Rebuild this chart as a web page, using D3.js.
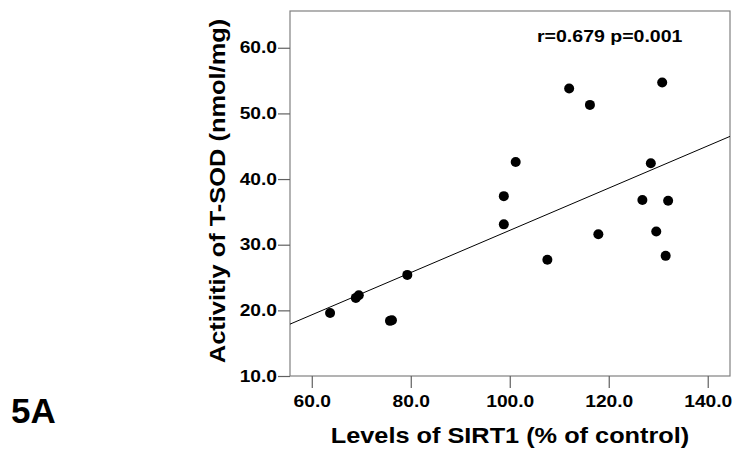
<!DOCTYPE html>
<html>
<head>
<meta charset="utf-8">
<title>SIRT1 vs T-SOD</title>
<script src="https://d3js.org/d3.v7.min.js"></script>
<style>
  body { margin: 0; background: #fff; }
  text { font-family: "Liberation Sans", Arial, sans-serif; font-weight: bold; fill: #000; }
</style>
</head>
<body>
<div id="chart"></div>
<script>
// data
var sirt1 = [63.7, 68.9, 69.5, 75.8, 76.2, 79.3, 98.8, 98.8, 101.2, 107.6, 112.0, 116.2, 117.9, 126.8, 128.5, 129.6, 130.8, 131.5, 132.0];
var tsod  = [19.6, 21.9, 22.3, 18.4, 18.5, 25.4, 33.1, 37.4, 42.6, 27.7, 53.8, 51.3, 31.6, 36.8, 42.4, 32.0, 54.7, 28.3, 36.7];
var fitX = [55.6, 144.5];
var fitY = [17.9, 46.5];
var xTicks = [60, 80, 100, 120, 140];
var yTicks = [10, 20, 30, 40, 50, 60];
var note = "r=0.679 p=0.001";

var width = 734, height = 450;
var pL = 290, pR = 730, pT = 11, pB = 376;

var svg = d3.select("#chart").append("svg")
    .attr("width", width)
    .attr("height", height);

var x = d3.scaleLinear().domain([55.6, 144.5]).range([pL, pR]);
var y = d3.scaleLinear().domain([10, 65.6]).range([pB, pT]);

// the original fonts are a bit wider than Liberation Sans, widen them
function stretch(sel, k) {
  sel.each(function() {
    var w = this.getComputedTextLength();
    d3.select(this).attr("textLength", w * k).attr("lengthAdjust", "spacingAndGlyphs");
  });
}

// frame
svg.append("rect")
    .attr("x", pL).attr("y", pT)
    .attr("width", pR - pL).attr("height", pB - pT)
    .attr("fill", "none").attr("stroke", "#808080").attr("stroke-width", 1.2);

var xAxis = svg.append("g")
    .attr("transform", "translate(0," + pB + ")")
    .call(d3.axisBottom(x).tickValues(xTicks).tickSize(12).tickPadding(8).tickFormat(d3.format(".1f")));
var yAxis = svg.append("g")
    .attr("transform", "translate(" + pL + ",0)")
    .call(d3.axisLeft(y).tickValues(yTicks).tickSize(12).tickPadding(1).tickFormat(d3.format(".1f")));

[xAxis, yAxis].forEach(function(a) {
  a.select(".domain").remove();
  a.selectAll(".tick line").attr("stroke", "#606060").attr("stroke-width", 1.2);
  a.selectAll(".tick text")
    .style("font-size", "16px")
    .style("font-family", "Liberation Sans, Arial, sans-serif")
    .style("font-weight", "bold")
    .attr("fill", "#000")
    .call(stretch, 1.2);
});

// fit line
svg.append("line")
    .attr("x1", x(fitX[0])).attr("y1", y(fitY[0]))
    .attr("x2", x(fitX[1])).attr("y2", y(fitY[1]))
    .attr("stroke", "#000").attr("stroke-width", 1);

// points
svg.append("g").selectAll("circle")
    .data(sirt1)
    .enter().append("circle")
    .attr("cx", function(d) { return x(d); })
    .attr("cy", function(d, i) { return y(tsod[i]); })
    .attr("r", 5)
    .attr("fill", "#000");

svg.append("text")
    .attr("x", 537).attr("y", 42)
    .style("font-size", "16px")
    .text(note)
    .call(stretch, 1.22);

svg.append("text")
    .attr("x", 510).attr("y", 443)
    .attr("text-anchor", "middle")
    .style("font-size", "22px")
    .text("Levels of SIRT1 (% of control)")
    .call(stretch, 1.15);

svg.append("text")
    .attr("transform", "translate(225,191) rotate(-90)")
    .attr("text-anchor", "middle")
    .style("font-size", "22px")
    .text("Activitiy of T-SOD (nmol/mg)")
    .call(stretch, 1.155);

svg.append("text")
    .attr("x", 11).attr("y", 423)
    .style("font-size", "35px")
    .text("5A");
</script>
</body>
</html>
